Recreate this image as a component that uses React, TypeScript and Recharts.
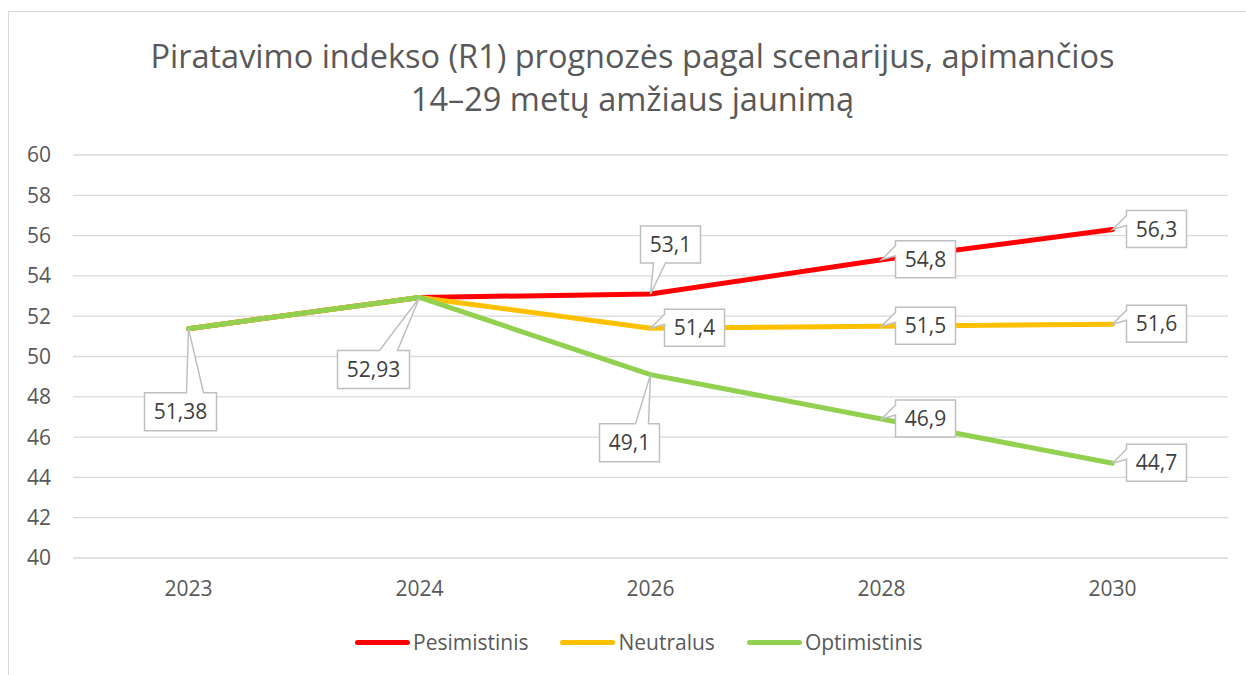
import { LineChart, Line, XAxis, YAxis, CartesianGrid } from "recharts";

const YEARS = ["2023", "2024", "2026", "2028", "2030"];
const PESIMISTINIS = [51.38, 52.93, 53.1, 54.8, 56.3];
const NEUTRALUS = [51.38, 52.93, 51.4, 51.5, 51.6];
const OPTIMISTINIS = [51.38, 52.93, 49.1, 46.9, 44.7];
const Y_TICKS = [40, 42, 44, 46, 48, 50, 52, 54, 56, 58, 60];

const TITLE = [
  "Piratavimo indekso (R1) prognozės pagal scenarijus, apimančios",
  "14–29 metų amžiaus jaunimą",
];

const SERIES = [
  { key: "pes", name: "Pesimistinis", color: "#FF0000", values: PESIMISTINIS },
  { key: "neu", name: "Neutralus", color: "#FFC000", values: NEUTRALUS },
  { key: "opt", name: "Optimistinis", color: "#92D050", values: OPTIMISTINIS },
];

const rows = YEARS.map((year, i) => ({
  year,
  pes: PESIMISTINIS[i],
  neu: NEUTRALUS[i],
  opt: OPTIMISTINIS[i],
}));

// callout box placement relative to the point (styling only)
type Callout = {
  dx: number;
  dy: number;
  w: number;
  h: number;
  edge: "top" | "bottom" | "left";
  b0: number;
  b1: number;
};
const RIGHT: Callout = { dx: 14, dy: -19, w: 60, h: 37, edge: "left", b0: 5, b1: 15 };
const CALLOUTS: Record<string, (Callout | null)[]> = {
  pes: [null, null, { dx: -10, dy: -68, w: 60, h: 37, edge: "bottom", b0: 13, b1: 25 }, RIGHT, RIGHT],
  neu: [null, null, RIGHT, RIGHT, RIGHT],
  opt: [
    { dx: -44, dy: 64, w: 72, h: 38, edge: "top", b0: 42, b1: 59 },
    { dx: -82, dy: 53, w: 72, h: 38, edge: "top", b0: 42, b1: 60 },
    { dx: -51, dy: 49, w: 60, h: 38, edge: "top", b0: 36, b1: 49 },
    RIGHT,
    RIGHT,
  ],
};

const TEXT = "#595959";
const FONT = "'Open Sans', sans-serif";

function calloutPath(c: Callout, cx: number, cy: number) {
  const L = cx + c.dx;
  const T = cy + c.dy;
  const R = L + c.w;
  const B = T + c.h;
  const p: string[] = [`M${L},${T}`];
  if (c.edge === "top") p.push(`L${L + c.b0},${T}`, `L${cx},${cy}`, `L${L + c.b1},${T}`);
  p.push(`L${R},${T}`, `L${R},${B}`);
  if (c.edge === "bottom") p.push(`L${L + c.b1},${B}`, `L${cx},${cy}`, `L${L + c.b0},${B}`);
  p.push(`L${L},${B}`);
  if (c.edge === "left") p.push(`L${L},${T + c.b1}`, `L${cx},${cy}`, `L${L},${T + c.b0}`);
  p.push("Z");
  return p.join(" ");
}

function makeDot(seriesKey: string) {
  return (props: any) => {
    const { cx, cy, index, value } = props;
    const c = CALLOUTS[seriesKey][index];
    if (!c || cx == null || cy == null) return <g key={`${seriesKey}-${index}`} />;
    const v = Array.isArray(value) ? value[1] : value;
    return (
      <g key={`${seriesKey}-${index}`}>
        <path d={calloutPath(c, cx, cy)} fill="#fff" stroke="#BFBFBF" strokeWidth={1.5} />
        <text
          x={cx + c.dx + c.w / 2}
          y={cy + c.dy + c.h / 2 + 7.5}
          textAnchor="middle"
          fontSize={21}
          fontFamily={FONT}
          fill="#404040"
        >
          {String(v).replace(".", ",")}
        </text>
      </g>
    );
  };
}

export default function App() {
  return (
    <div
      style={{
        position: "fixed",
        left: 0,
        top: 0,
        width: 1246,
        height: 675,
        background: "#fff",
        overflow: "hidden",
        fontFamily: FONT,
      }}
    >
      <div
        style={{
          position: "absolute",
          left: 8,
          top: 11,
          width: 1300,
          height: 700,
          border: "1px solid #D9D9D9",
        }}
      />
      <div
        style={{
          position: "absolute",
          left: 0,
          top: 34,
          width: 1265,
          textAlign: "center",
          fontSize: 32.5,
          lineHeight: "43px",
          color: TEXT,
        }}
      >
        {TITLE.map((t) => (
          <div key={t}>{t}</div>
        ))}
      </div>
      <div style={{ position: "absolute", left: 0, top: 0 }}>
        <LineChart
          width={1246}
          height={675}
          data={rows}
          margin={{ top: 155, right: 18, bottom: 57, left: 0 }}
        >
          <CartesianGrid vertical={false} stroke="#D9D9D9" strokeWidth={1.3} />
          <XAxis
            dataKey="year"
            axisLine={false}
            tickLine={false}
            tickSize={0}
            tickMargin={23}
            height={60}
            padding={{ left: 115.5, right: 115.5 }}
            tick={{ fontSize: 21, fill: TEXT, fontFamily: FONT }}
            interval={0}
          />
          <YAxis
            domain={[40, 60]}
            ticks={Y_TICKS}
            interval={0}
            axisLine={false}
            tickLine={false}
            tickSize={0}
            tickMargin={22}
            width={73}
            tick={{ fontSize: 21, fill: TEXT, fontFamily: FONT }}
          />
          {SERIES.map((s) => (
            <Line
              key={s.key}
              type="linear"
              dataKey={s.key}
              name={s.name}
              stroke={s.color}
              strokeWidth={5}
              strokeLinecap="round"
              strokeLinejoin="round"
              dot={makeDot(s.key)}
              activeDot={false}
              isAnimationActive={false}
            />
          ))}
        </LineChart>
      </div>
      <div
        style={{
          position: "absolute",
          left: 355,
          top: 628,
          display: "flex",
          alignItems: "center",
          gap: 32,
          fontSize: 21,
          color: TEXT,
        }}
      >
        {SERIES.map((s) => (
          <div key={s.key} style={{ display: "flex", alignItems: "center", gap: 3 }}>
            <span
              style={{
                display: "inline-block",
                width: 55,
                height: 5,
                borderRadius: 3,
                background: s.color,
              }}
            />
            <span style={{ lineHeight: "28px" }}>{s.name}</span>
          </div>
        ))}
      </div>
    </div>
  );
}
